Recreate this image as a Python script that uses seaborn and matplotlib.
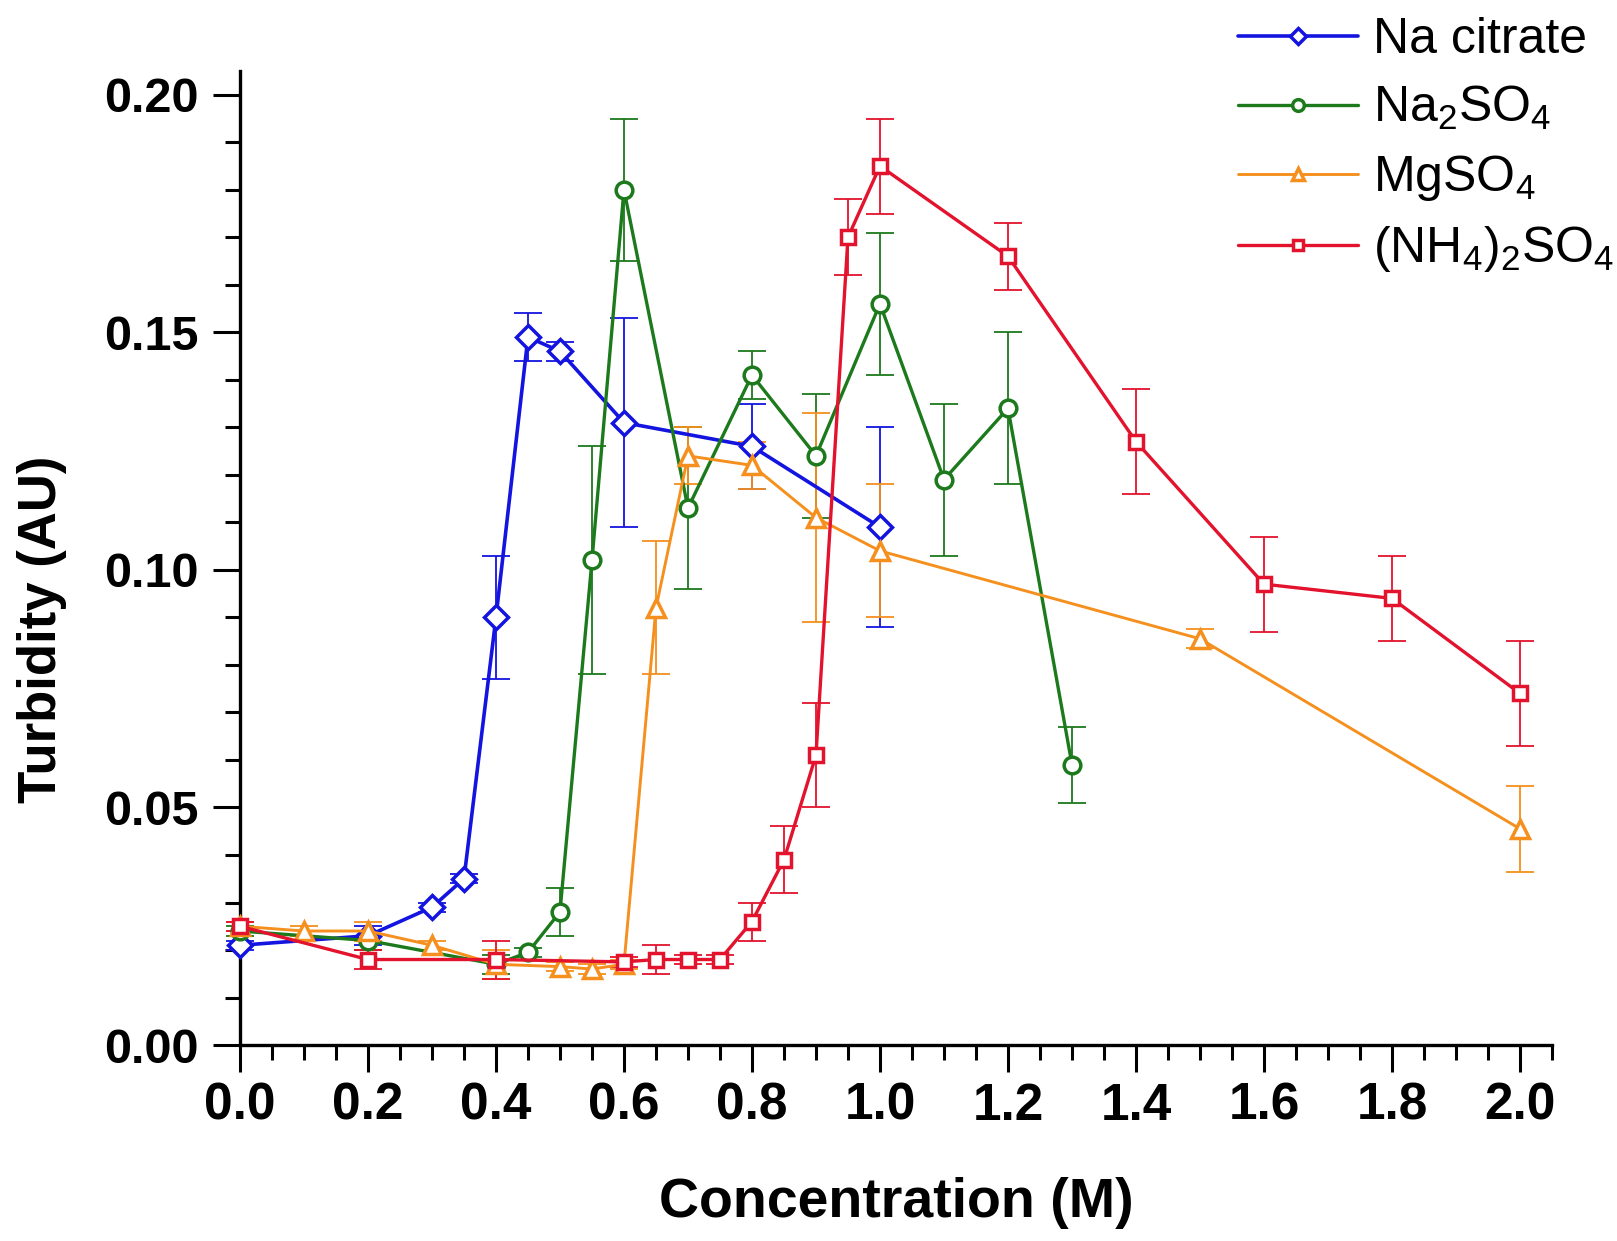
import matplotlib
matplotlib.use("Agg")
import matplotlib.pyplot as plt
from matplotlib.ticker import MultipleLocator, FormatStrFormatter
import seaborn as sns

# Turbidity (AU) vs salt concentration (M), mean ± SD
citrate_x = [0.0, 0.2, 0.3, 0.35, 0.4, 0.45, 0.5, 0.6, 0.8, 1.0]
citrate_y = [0.021, 0.023, 0.029, 0.035, 0.090, 0.149, 0.146, 0.131, 0.126, 0.109]
citrate_e = [0.001, 0.002, 0.001, 0.001, 0.013, 0.005, 0.002, 0.022, 0.009, 0.021]

na2so4_x = [0.0, 0.2, 0.4, 0.45, 0.5, 0.55, 0.6, 0.7, 0.8, 0.9, 1.0, 1.1, 1.2, 1.3]
na2so4_y = [0.024, 0.022, 0.017, 0.0195, 0.028, 0.102, 0.180, 0.113, 0.141, 0.124,
            0.156, 0.119, 0.134, 0.059]
na2so4_e = [0.001, 0.002, 0.002, 0.001, 0.005, 0.024, 0.015, 0.017, 0.005, 0.013,
            0.015, 0.016, 0.016, 0.008]

mgso4_x = [0.0, 0.1, 0.2, 0.3, 0.4, 0.5, 0.55, 0.6, 0.65, 0.7, 0.8, 0.9, 1.0, 1.5, 2.0]
mgso4_y = [0.025, 0.024, 0.024, 0.021, 0.017, 0.0165, 0.016, 0.017, 0.092, 0.124,
           0.122, 0.111, 0.104, 0.0855, 0.0455]
mgso4_e = [0.001, 0.001, 0.002, 0.001, 0.003, 0.001, 0.001, 0.001, 0.014, 0.006,
           0.005, 0.022, 0.014, 0.002, 0.009]

nh4_x = [0.0, 0.2, 0.4, 0.6, 0.65, 0.7, 0.75, 0.8, 0.85, 0.9, 0.95, 1.0, 1.2, 1.4,
         1.6, 1.8, 2.0]
nh4_y = [0.025, 0.018, 0.018, 0.0175, 0.018, 0.018, 0.018, 0.026, 0.039, 0.061,
         0.170, 0.185, 0.166, 0.127, 0.097, 0.094, 0.074]
nh4_e = [0.001, 0.002, 0.004, 0.001, 0.003, 0.001, 0.001, 0.004, 0.007, 0.011,
         0.008, 0.010, 0.007, 0.011, 0.010, 0.009, 0.011]

series_labels = ["Na citrate", r"Na$_2$SO$_4$", r"MgSO$_4$", r"(NH$_4$)$_2$SO$_4$"]
x_ticks = [0.0, 0.2, 0.4, 0.6, 0.8, 1.0, 1.2, 1.4, 1.6, 1.8, 2.0]
y_ticks = [0.00, 0.05, 0.10, 0.15, 0.20]

sns.set_style("ticks")
plt.rcParams["font.family"] = ["Liberation Sans", "DejaVu Sans"]
plt.rcParams["mathtext.fontset"] = "custom"
plt.rcParams["mathtext.rm"] = "Liberation Sans"
plt.rcParams["mathtext.it"] = "Liberation Sans:italic"
plt.rcParams["mathtext.bf"] = "Liberation Sans:bold"
for key in ("text.color", "axes.labelcolor", "xtick.color", "ytick.color",
            "axes.edgecolor"):
    plt.rcParams[key] = "black"

fig = plt.figure(figsize=(16.17, 12.41), dpi=100)
ax = fig.add_axes([0.1484, 0.1579, 0.8114, 0.7849])

styles = [
    # color, marker, markersize, linewidth
    ("#1414e0", "D", 12, 2.6),
    ("#1c7a1c", "o", 12, 2.4),
    ("#f5901e", "^", 13, 2.1),
    ("#e3122d", "s", 10, 2.4),
]
data = [
    (citrate_x, citrate_y, citrate_e),
    (na2so4_x, na2so4_y, na2so4_e),
    (mgso4_x, mgso4_y, mgso4_e),
    (nh4_x, nh4_y, nh4_e),
]

for i, ((xs, ys, es), (col, mk, ms, lw), lab) in enumerate(zip(data, styles, series_labels)):
    ax.errorbar(xs, ys, yerr=es, fmt="none", ecolor=col, elinewidth=1.3,
                capsize=10, capthick=1.3, zorder=2 + i * 0.1, clip_on=False)
    sns.lineplot(x=xs, y=ys, ax=ax, color=col, marker=mk, markersize=ms,
                 markeredgecolor=col, markerfacecolor="white", markeredgewidth=2.5,
                 linewidth=lw, label=lab, estimator=None, sort=False,
                 legend=False, zorder=3 + i * 0.1, clip_on=False)

ax.set_xlim(0, 2.05)
ax.set_ylim(0, 0.205)
ax.set_xticks(x_ticks)
ax.set_yticks(y_ticks)
ax.xaxis.set_minor_locator(MultipleLocator(0.05))
ax.yaxis.set_minor_locator(MultipleLocator(0.01))
ax.xaxis.set_major_formatter(FormatStrFormatter("%.1f"))
ax.yaxis.set_major_formatter(FormatStrFormatter("%.2f"))

for side in ("top", "right"):
    ax.spines[side].set_visible(False)
for side in ("left", "bottom"):
    ax.spines[side].set_linewidth(2.4)
    ax.spines[side].set_color("black")

ax.tick_params(which="major", direction="out", length=19.5, width=2.2, color="black")
ax.tick_params(which="minor", direction="out", length=10.5, width=2.2, color="black")
ax.tick_params(axis="x", which="major", labelsize=37, pad=7, labelcolor="black")
ax.tick_params(axis="y", which="major", labelsize=35, pad=10, labelcolor="black")
for lbl in ax.get_xticklabels() + ax.get_yticklabels():
    lbl.set_fontweight("bold")

ax.set_xlabel("Concentration (M)", fontsize=40, fontweight="bold", color="black")
ax.set_ylabel("Turbidity (AU)", fontsize=38, fontweight="bold", color="black")
ax.xaxis.label.set_verticalalignment("center")
ax.yaxis.label.set_verticalalignment("center")
ax.xaxis.set_label_coords(0.5, -0.162)
ax.yaxis.set_label_coords(-0.151, 0.427)

handles, labels = ax.get_legend_handles_labels()
ax.legend(handles, labels, loc="upper left", bbox_to_anchor=(0.7656, 0.986),
          bbox_transform=fig.transFigure, frameon=False, fontsize=36,
          handlelength=2.4, handletextpad=0.3, labelspacing=0.42,
          borderpad=0, borderaxespad=0, markerscale=0.7, labelcolor="black")

fig.savefig("out.png", dpi=100, facecolor="white")
